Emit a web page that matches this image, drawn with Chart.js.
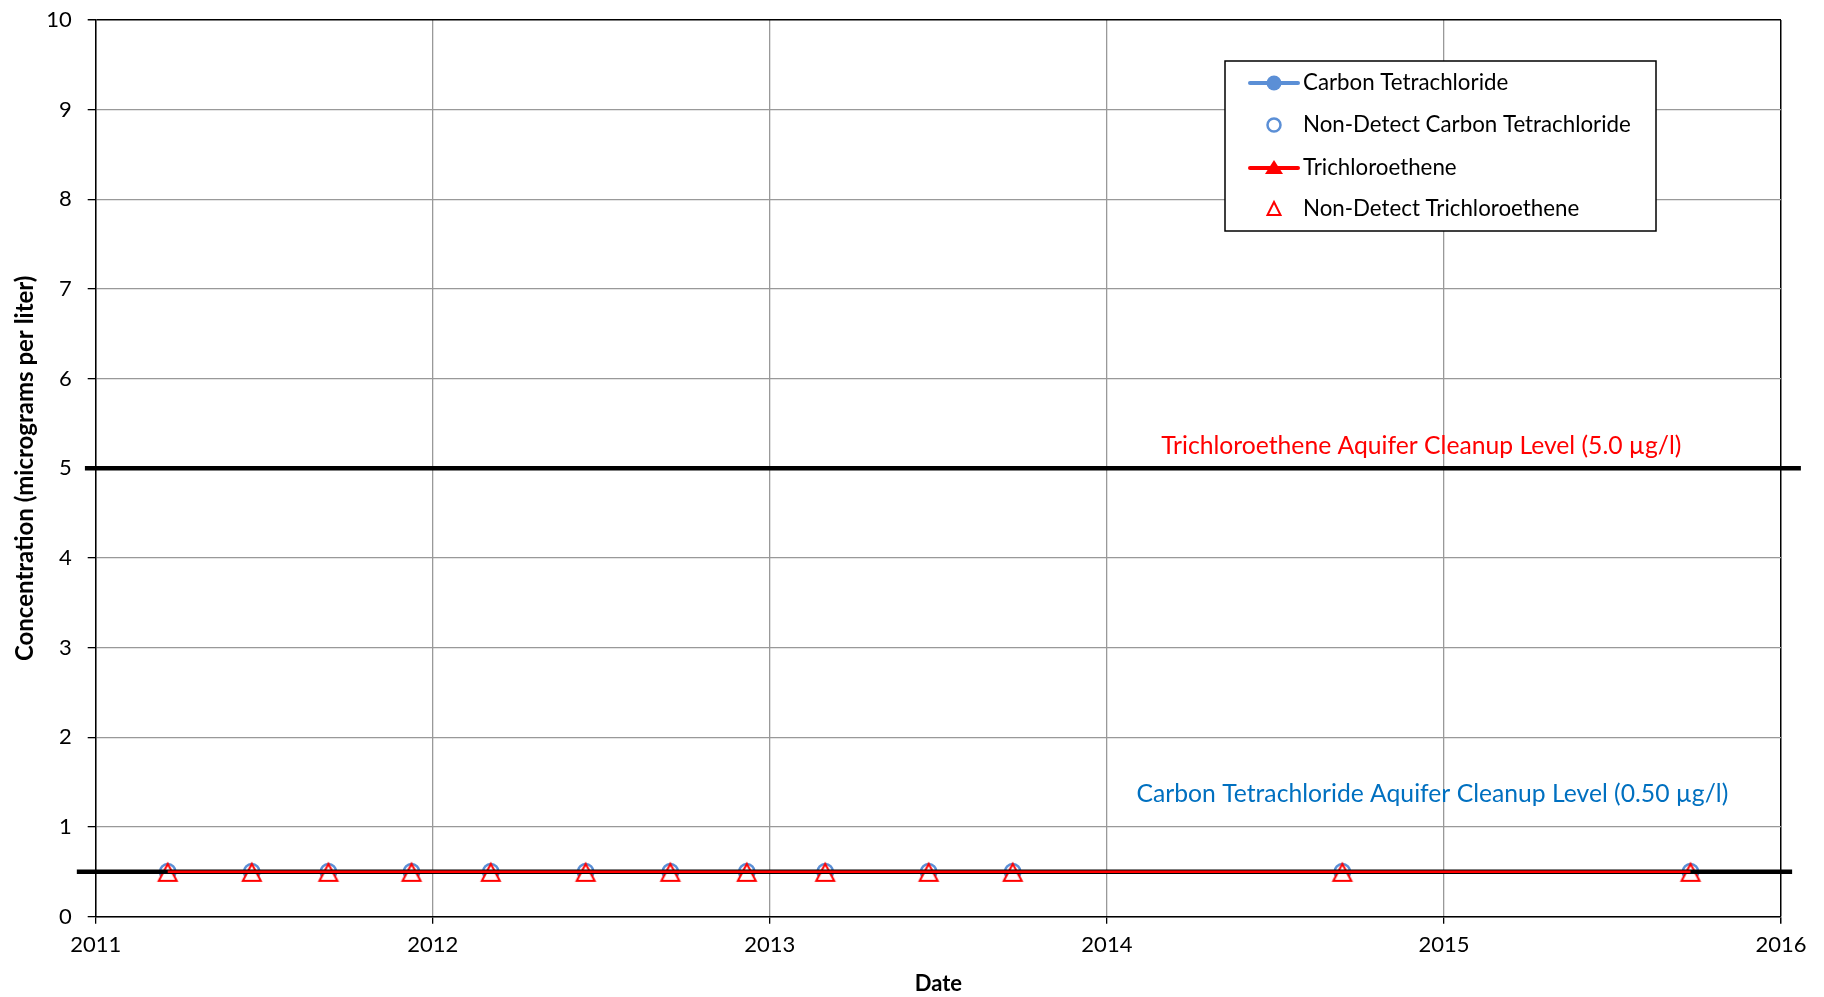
<!DOCTYPE html>
<html>
<head>
<meta charset="utf-8">
<script src="https://cdn.jsdelivr.net/npm/chart.js@4"></script>
<style>
  html, body { margin: 0; padding: 0; background: #fff; }
</style>
</head>
<body>
<canvas id="myChart" width="1824" height="997"></canvas>
<script>
// sampling events, one row per date
const sampleDates = [
    '2011-03-20', '2011-06-19', '2011-09-10', '2011-12-09',
    '2012-03-04', '2012-06-15', '2012-09-15', '2012-12-07',
    '2013-03-02', '2013-06-22', '2013-09-21',
    '2014-09-13', '2015-09-25'
];
// all results are non-detects reported at the reporting limit
const ctValues  = [0.5, 0.5, 0.5, 0.5, 0.5, 0.5, 0.5, 0.5, 0.5, 0.5, 0.5, 0.5, 0.5];
const tceValues = [0.5, 0.5, 0.5, 0.5, 0.5, 0.5, 0.5, 0.5, 0.5, 0.5, 0.5, 0.5, 0.5];

// cleanup levels and the date span their lines run over
const tceCleanupLevel = 5.0;
const ctCleanupLevel = 0.5;
const tceLevelSpan = [2010.968, 2016.059];
const ctLevelSpan = [2010.944, 2016.033];

const yearTicks = [2011, 2012, 2013, 2014, 2015, 2016];
const concTicks = [0, 1, 2, 3, 4, 5, 6, 7, 8, 9, 10];

const FONT = 'Lato, Carlito, Calibri, sans-serif';
const ctBlue = '#5b8fd6';
const tceRed = '#ff0000';

function toYear(s) {
    const d = new Date(s + 'T00:00:00Z');
    const y = d.getUTCFullYear();
    const start = Date.UTC(y, 0, 1), end = Date.UTC(y + 1, 0, 1);
    return y + (d.getTime() - start) / (end - start);
}

function points(vals) {
    return sampleDates.map((d, i) => ({ x: toYear(d), y: vals[i] }));
}

// triangle marker drawn on its own canvas so it sits centred on the point
function triangleMarker(color, fill) {
    const c = document.createElement('canvas');
    c.width = 24; c.height = 24;
    const g = c.getContext('2d');
    g.beginPath();
    g.moveTo(12, 4);
    g.lineTo(21, 21);
    g.lineTo(3, 21);
    g.closePath();
    if (fill) { g.fillStyle = fill; g.fill(); }
    g.lineWidth = 2;
    g.strokeStyle = color;
    g.stroke();
    return c;
}

const legendBox = {
    id: 'legendBox',
    afterDraw(chart, args, opts) {
        const ctx = chart.ctx;
        const { x, y, w, h, rowY, items } = opts;
        ctx.save();
        ctx.fillStyle = '#fff';
        ctx.fillRect(x, y, w, h);
        ctx.lineWidth = 1.5;
        ctx.strokeStyle = '#000';
        ctx.strokeRect(x, y, w, h);
        items.forEach((it, i) => {
            const cy = y + rowY[i];
            const cx = x + 49;
            if (it.line) {
                ctx.beginPath();
                ctx.moveTo(x + 25, cy);
                ctx.lineTo(x + 73, cy);
                ctx.lineWidth = 4;
                ctx.lineCap = 'round';
                ctx.strokeStyle = it.color;
                ctx.stroke();
            }
            if (it.marker === 'circle') {
                ctx.beginPath();
                ctx.arc(cx, cy, it.filled ? 7.5 : 6.5, 0, Math.PI * 2);
                if (it.filled) { ctx.fillStyle = it.color; ctx.fill(); }
                else { ctx.lineWidth = 2.5; ctx.strokeStyle = it.color; ctx.stroke(); }
            } else {
                ctx.beginPath();
                if (it.filled) {
                    ctx.moveTo(cx, cy - 8);
                    ctx.lineTo(cx + 9, cy + 6);
                    ctx.lineTo(cx - 9, cy + 6);
                } else {
                    ctx.moveTo(cx, cy - 7);
                    ctx.lineTo(cx + 6.5, cy + 6);
                    ctx.lineTo(cx - 6.5, cy + 6);
                }
                ctx.closePath();
                if (it.filled) { ctx.fillStyle = it.color; ctx.fill(); }
                else { ctx.lineWidth = 2; ctx.strokeStyle = it.color; ctx.stroke(); }
            }
            ctx.fillStyle = '#000';
            ctx.font = '22.3px ' + FONT;
            ctx.textAlign = 'left';
            ctx.textBaseline = 'middle';
            ctx.fillText(it.label, x + 78, cy);
        });
        ctx.restore();
    }
};

// labels next to the cleanup level lines, placed in data units
const levelLabels = {
    id: 'levelLabels',
    afterDatasetsDraw(chart, args, opts) {
        const ctx = chart.ctx;
        const xs = chart.scales.x, ys = chart.scales.y;
        ctx.save();
        ctx.font = '24.7px ' + FONT;
        ctx.textAlign = 'left';
        ctx.textBaseline = 'middle';
        opts.items.forEach(it => {
            ctx.fillStyle = it.color;
            ctx.fillText(it.text, xs.getPixelForValue(it.x), ys.getPixelForValue(it.y));
        });
        ctx.restore();
    }
};

const ctx = document.getElementById('myChart').getContext('2d');
const myChart = new Chart(ctx, {
    type: 'line',
    data: {
        datasets: [
            {
                label: 'Trichloroethene',
                data: points(tceValues),
                borderColor: tceRed,
                borderWidth: 2.5,
                pointRadius: 0,
                order: 0,
            },
            {
                label: 'TCE cleanup level',
                data: tceLevelSpan.map(x => ({ x: x, y: tceCleanupLevel })),
                borderColor: '#000',
                borderWidth: 4.5,
                pointRadius: 0,
                clip: false,
                order: 1,
            },
            {
                label: 'CT cleanup level',
                data: ctLevelSpan.map(x => ({ x: x, y: ctCleanupLevel })),
                borderColor: '#000',
                borderWidth: 4.5,
                pointRadius: 0,
                clip: false,
                order: 1,
            },
            {
                label: 'Non-Detect Trichloroethene',
                data: points(tceValues),
                showLine: false,
                pointStyle: triangleMarker(tceRed, '#fff'),
                pointRadius: 10,
                order: 2,
            },
            {
                label: 'Non-Detect Carbon Tetrachloride',
                data: points(ctValues),
                showLine: false,
                pointStyle: 'circle',
                pointRadius: 7.8,
                pointBorderWidth: 2.5,
                pointBorderColor: ctBlue,
                pointBackgroundColor: 'rgba(0,0,0,0)',
                order: 3,
            },
            {
                label: 'Carbon Tetrachloride',
                data: points(ctValues),
                borderColor: ctBlue,
                borderWidth: 3,
                pointRadius: 0,
                order: 4,
            },
        ]
    },
    options: {
        responsive: false,
        animation: false,
        devicePixelRatio: 1,
        layout: { padding: { left: 0, top: 20, right: 43, bottom: 0 } },
        scales: {
            x: {
                type: 'linear',
                min: 2011,
                max: 2016,
                afterFit: s => { s.height = 80.3; },
                afterBuildTicks: s => { s.ticks = yearTicks.map(v => ({ value: v })); },
                ticks: {
                    callback: v => String(v),
                    color: '#000',
                    font: { family: FONT, size: 22 },
                    padding: 8,
                    maxRotation: 0,
                },
                grid: {
                    color: c => (c.tick && c.tick.value === 2016) ? '#000' : '#999',
                    lineWidth: c => (c.tick && c.tick.value === 2016) ? 1.5 : 1.3,
                    tickLength: 7,
                    tickColor: '#000',
                },
                border: { color: '#000', width: 1.5 },
                title: {
                    display: true,
                    text: 'Date',
                    color: '#000',
                    font: { family: FONT, size: 22, weight: 'bold' },
                    padding: { top: 0, bottom: 0 },
                },
            },
            y: {
                min: 0,
                max: 10,
                afterFit: s => { s.width = 95.7; s.paddingTop = 0; s.paddingBottom = 0; },
                afterBuildTicks: s => { s.ticks = concTicks.map(v => ({ value: v })); },
                ticks: {
                    color: '#000',
                    font: { family: FONT, size: 22 },
                    padding: 16,
                },
                grid: {
                    color: c => (c.tick && c.tick.value === 10) ? '#000' : '#999',
                    lineWidth: c => (c.tick && c.tick.value === 10) ? 1.5 : 1.3,
                    tickLength: 8,
                    tickColor: '#000',
                },
                border: { color: '#000', width: 1.5 },
                title: {
                    display: true,
                    text: 'Concentration (micrograms per liter)',
                    color: '#000',
                    font: { family: FONT, size: 24, weight: 'bold' },
                    padding: { top: 11, bottom: 0 },
                },
            },
        },
        plugins: {
            legend: { display: false },
            tooltip: { enabled: false },
            legendBox: {
                x: 1225, y: 61, w: 431, h: 170,
                rowY: [22, 64, 107, 148],
                items: [
                    { label: 'Carbon Tetrachloride', color: ctBlue, line: true, marker: 'circle', filled: true },
                    { label: 'Non-Detect Carbon Tetrachloride', color: ctBlue, line: false, marker: 'circle', filled: false },
                    { label: 'Trichloroethene', color: tceRed, line: true, marker: 'triangle', filled: true },
                    { label: 'Non-Detect Trichloroethene', color: tceRed, line: false, marker: 'triangle', filled: false },
                ],
            },
            levelLabels: {
                items: [
                    { text: 'Trichloroethene Aquifer Cleanup Level (5.0 µg/l)', color: '#ff0000', x: 2014.161, y: 5.25 },
                    { text: 'Carbon Tetrachloride Aquifer Cleanup Level (0.50 µg/l)', color: '#0070c0', x: 2014.088, y: 1.37 },
                ],
            },
        },
    },
    plugins: [levelLabels, legendBox],
});
</script>
</body>
</html>
